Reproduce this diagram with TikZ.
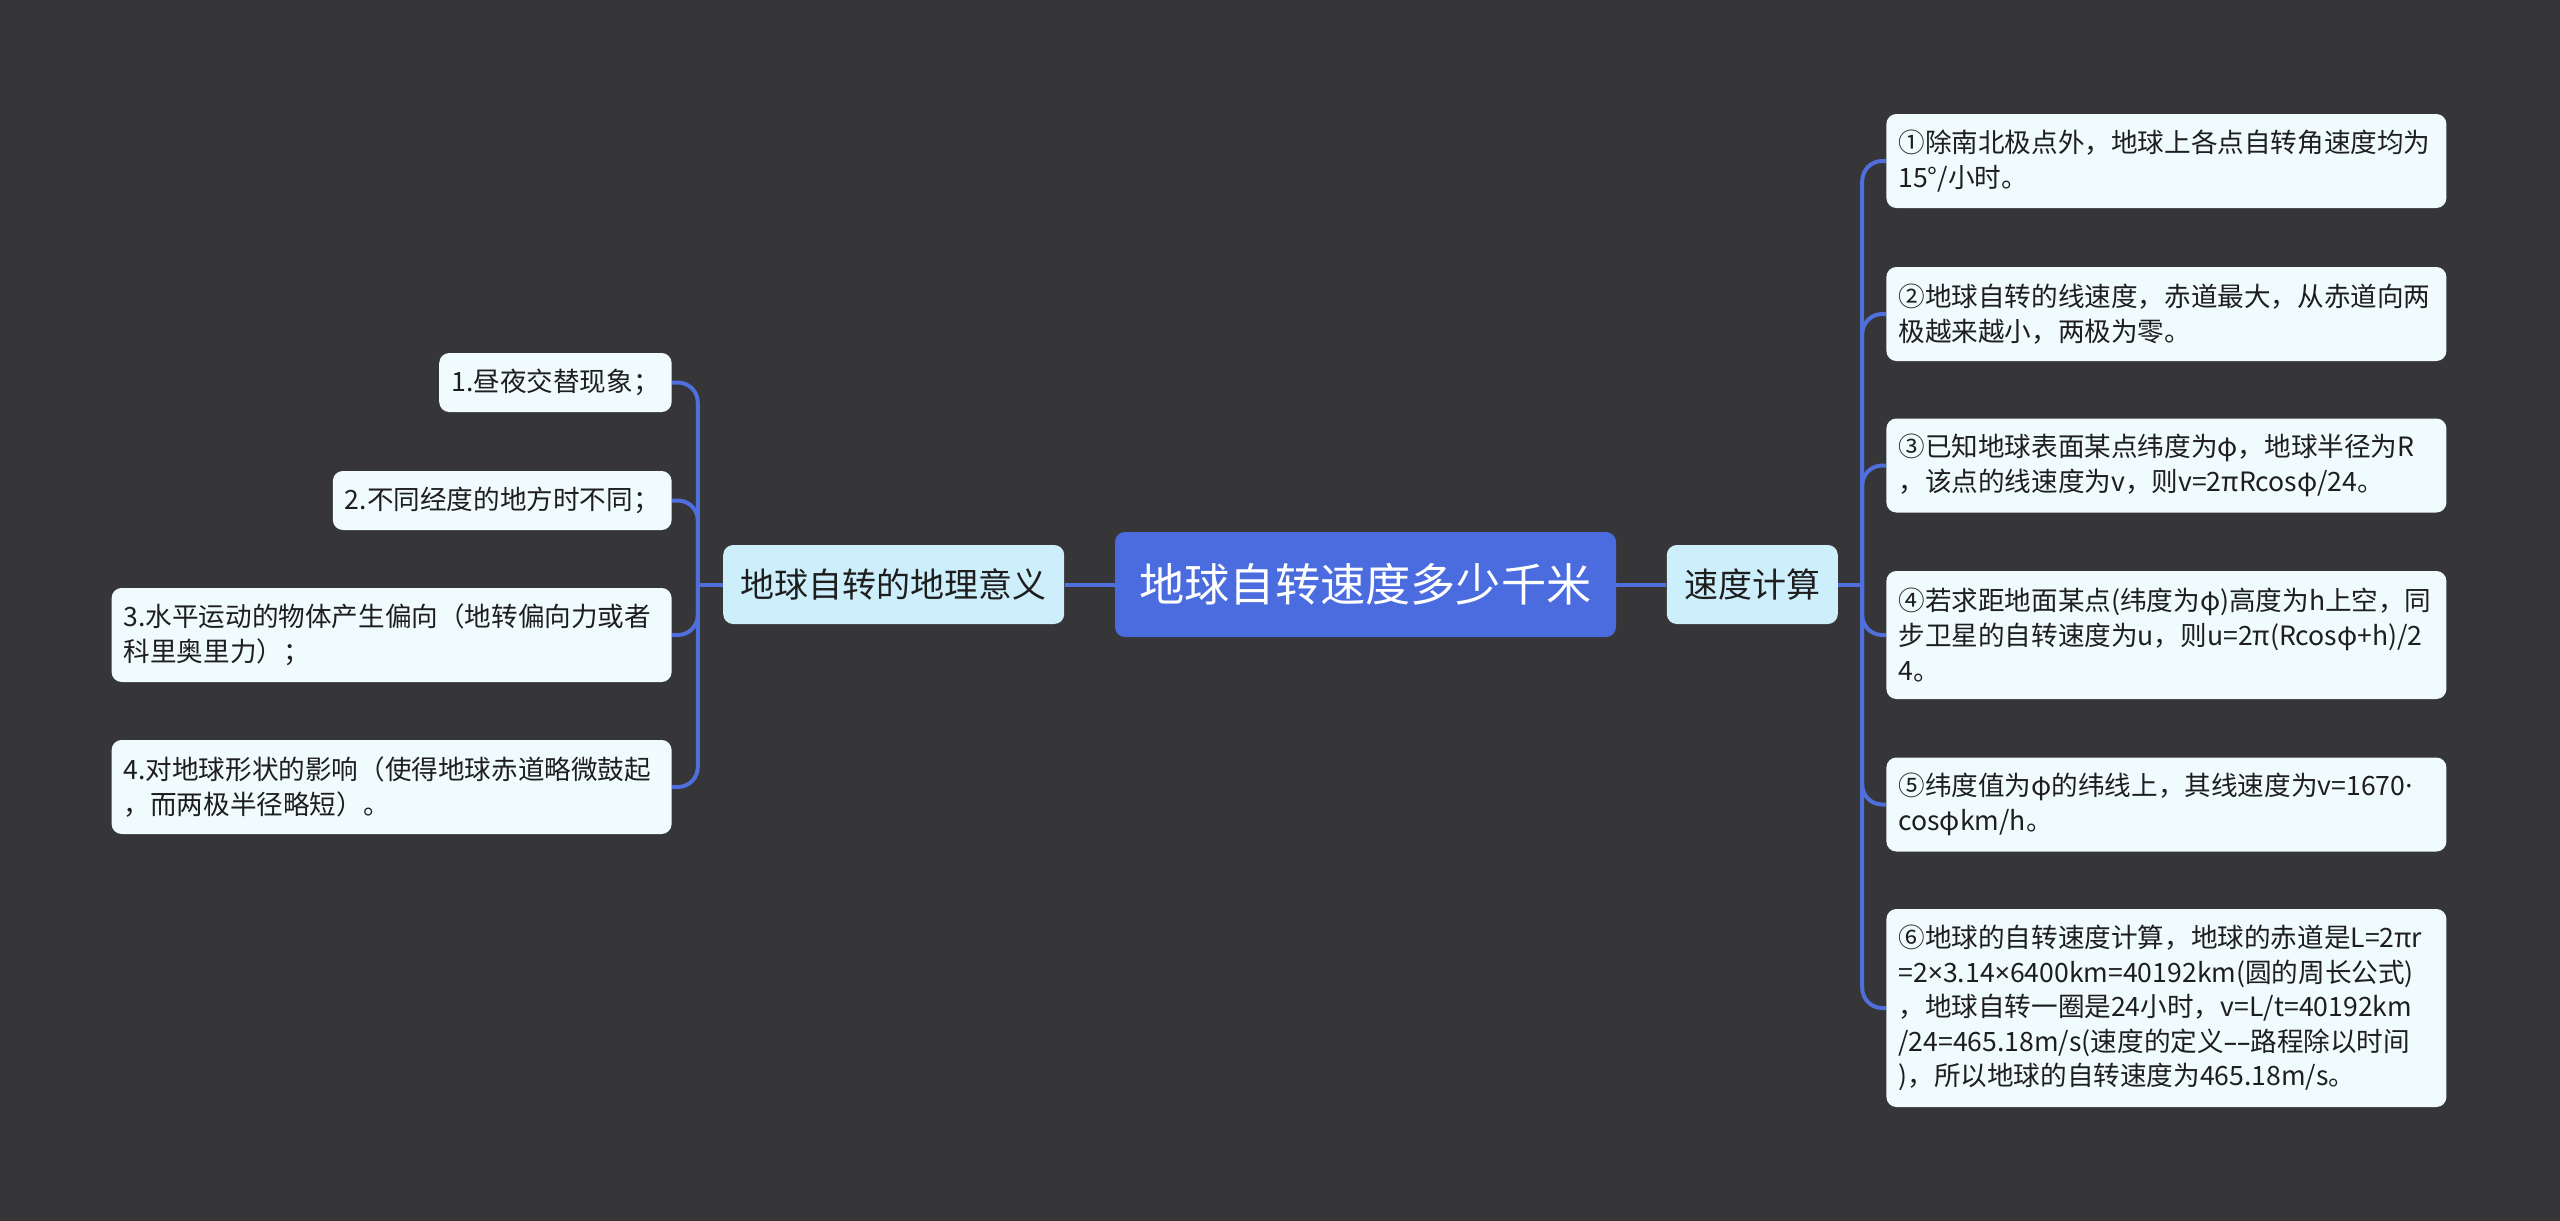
\documentclass[tikz,border=0pt]{standalone}
\usepackage{fontspec}
\setmainfont{Noto Sans CJK SC}
\newfontfamily\latinfont{Noto Sans}
\usetikzlibrary{positioning}

\definecolor{bgcol}{HTML}{363537}
\definecolor{rootcol}{HTML}{4B6CDE}
\definecolor{linecol}{HTML}{4E6FDC}
\definecolor{branchcol}{HTML}{CDEFFC}
\definecolor{leafcol}{HTML}{EFFBFC}
\definecolor{txtcol}{HTML}{1E1E1E}

\begin{document}
\begin{tikzpicture}[x=0.5pt, y=-0.5pt,
  root/.style={fill=rootcol, text=white, rounded corners=5pt, inner xsep=12.25pt, minimum height=52.5pt, font=\fontsize{22.6}{27}\selectfont},
  branch/.style={fill=branchcol, text=txtcol, rounded corners=5pt, inner xsep=8.75pt, minimum height=39.5pt, font=\fontsize{17}{20}\selectfont},
  leaf/.style={fill=leafcol, text=txtcol, rounded corners=5pt, inner xsep=6pt, inner ysep=0pt, font=\fontsize{13.3}{17.3}\selectfont},
  wide/.style={text width=268pt, align=left},
  one/.style={minimum height=29.5pt},
  two/.style={minimum height=47pt},
  three/.style={minimum height=64pt},
  five/.style={minimum height=99pt},
  conn/.style={draw=linecol, line width=2pt, rounded corners=10pt}
]
\path[fill=bgcol] (0,0) rectangle (2560,1221);

\node[root] (root) at (1365.5,584.5) {地球自转速度多少千米};
\node[branch, left=25pt of root] (lb) {地球自转的地理意义};
\node[branch, right=25pt of root] (rb) {速度计算};

\node[leaf, one, anchor=east] (l1) at (672,382.5) {1.昼夜交替现象；};
\node[leaf, one, anchor=east] (l2) at (672,500.5) {2.不同经度的地方时不同；};
\node[leaf, two, wide, anchor=east] (l3) at (672,635) {3.水平运动的物体产生偏向（地转偏向力或者\\科里奥里力）；};
\node[leaf, two, wide, anchor=east] (l4) at (672,787) {4.对地球形状的影响（使得地球赤道略微鼓起\\，而两极半径略短）。};

\node[leaf, two, wide, anchor=west] (r1) at (1886,161) {①除南北极点外，地球上各点自转角速度均为\\15°/小时。};
\node[leaf, two, wide, anchor=west] (r2) at (1886,314) {②地球自转的线速度，赤道最大，从赤道向两\\极越来越小，两极为零。};
\node[leaf, two, wide, anchor=west] (r3) at (1886,465.5) {③已知地球表面某点纬度为φ，地球半径为R\\，该点的线速度为v，则v=2πRcosφ/24。};
\node[leaf, three, wide, anchor=west] (r4) at (1886,635) {④若求距地面某点(纬度为φ)高度为h上空，同\\步卫星的自转速度为u，则u=2π(Rcosφ+h)/2\\4。};
\node[leaf, two, wide, anchor=west] (r5) at (1886,804.5) {⑤纬度值为φ的纬线上，其线速度为v=1670{\latinfont ·}\\cosφkm/h。};
\node[leaf, five, wide, anchor=west] (r6) at (1886,1008) {⑥地球的自转速度计算，地球的赤道是L=2πr\\=2{\latinfont ×}3.14{\latinfont ×}6400km=40192km(圆的周长公式)\\，地球自转一圈是24小时，v=L/t=40192km\\/24=465.18m/s(速度的定义{\latinfont ––}路程除以时间\\)，所以地球的自转速度为465.18m/s。};

\draw[conn] (root) -- (lb);
\draw[conn] (root) -- (rb);

\coordinate[left=12.5pt of lb.west] (lt);
\draw[conn] (lb.west) -- (lt);
\foreach \n in {l1,l2,l3,l4}
  \draw[conn] (lt) |- (\n.east);

\coordinate[right=12pt of rb.east] (rt);
\draw[conn] (rb.east) -- (rt);
\foreach \n in {r1,r2,r3,r4,r5,r6}
  \draw[conn] (rt) |- (\n.west);
\end{tikzpicture}
\end{document}
